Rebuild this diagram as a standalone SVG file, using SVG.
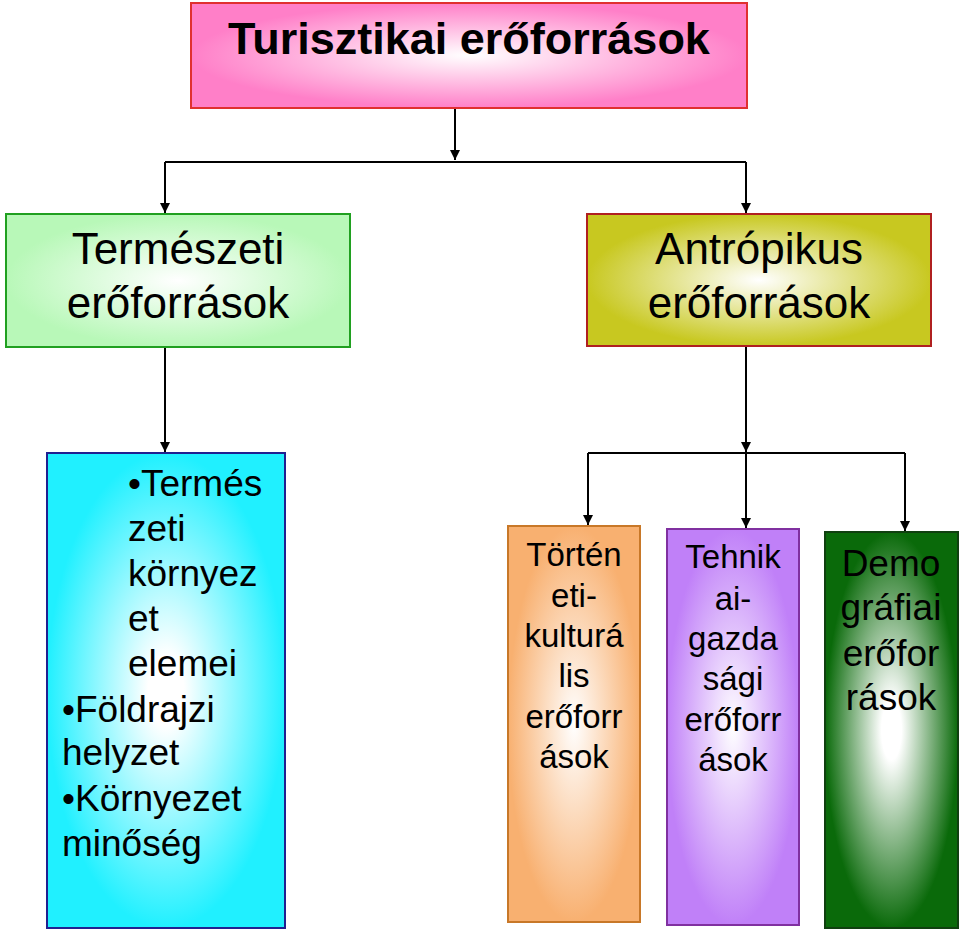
<svg xmlns="http://www.w3.org/2000/svg" width="960" height="931" viewBox="0 0 960 931">
<defs>
<radialGradient id="gPink"><stop offset="0" stop-color="#ffffff"/><stop offset="1" stop-color="#ff7fc8"/></radialGradient>
<radialGradient id="gGreen"><stop offset="0" stop-color="#ffffff"/><stop offset="1" stop-color="#b8f8b8"/></radialGradient>
<radialGradient id="gYellow"><stop offset="0" stop-color="#ffffff"/><stop offset="1" stop-color="#c8c820"/></radialGradient>
<radialGradient id="gCyan"><stop offset="0" stop-color="#ffffff"/><stop offset="0.15" stop-color="#ffffff"/><stop offset="1" stop-color="#20f0ff"/></radialGradient>
<radialGradient id="gOrange"><stop offset="0" stop-color="#ffffff"/><stop offset="1" stop-color="#f8b070"/></radialGradient>
<radialGradient id="gPurple"><stop offset="0" stop-color="#ffffff"/><stop offset="1" stop-color="#c080f8"/></radialGradient>
<radialGradient id="gDGreen"><stop offset="0" stop-color="#ffffff"/><stop offset="0.15" stop-color="#ffffff"/><stop offset="1" stop-color="#0a6a0a"/></radialGradient>
<marker id="arr" viewBox="0 0 10 10" refX="10" refY="5" markerWidth="5" markerHeight="5" orient="auto"><path d="M0,0 L10,5 L0,10 z" fill="#000"/></marker>
</defs>
<style>
text{font-family:"Liberation Sans",Arial,sans-serif;fill:#000}
.c{text-anchor:middle}
.ln{stroke:#000;stroke-width:2;fill:none}
.a{marker-end:url(#arr)}
</style>
<g id="connectors">
<path class="ln a" d="M455,108 V160"/>
<path class="ln" d="M165,162 H746"/>
<path class="ln a" d="M165,162 V213"/>
<path class="ln a" d="M746,162 V213"/>
<path class="ln a" d="M165,347 V452"/>
<path class="ln a" d="M746,346 V452"/>
<path class="ln" d="M588,453 H905"/>
<path class="ln a" d="M588,453 V525"/>
<path class="ln a" d="M746,453 V528"/>
<path class="ln a" d="M905,453 V531"/>
</g>
<g id="top"><rect x="191" y="3" width="556" height="105" fill="url(#gPink)" stroke="#e03030" stroke-width="2"/>
<text x="469" y="54" class="c" font-size="45" font-weight="bold">Turisztikai erőforrások</text></g>
<g id="termeszeti"><rect x="6" y="214" width="344" height="133" fill="url(#gGreen)" stroke="#20a020" stroke-width="2"/>
<text x="178" y="264" class="c" font-size="44">Természeti</text><text x="178" y="318" class="c" font-size="44">erőforrások</text></g>
<g id="antropikus"><rect x="587" y="214" width="344" height="132" fill="url(#gYellow)" stroke="#b02020" stroke-width="2"/>
<text x="759" y="264" class="c" font-size="44">Antrópikus</text><text x="759" y="318" class="c" font-size="44">erőforrások</text></g>
<g id="kornyezet"><rect x="47" y="453" width="238" height="475" fill="url(#gCyan)" stroke="#202090" stroke-width="2"/>
<g font-size="37"><text x="128" y="496">•Termés</text><text x="128" y="541">zeti</text><text x="128" y="586">környez</text><text x="128" y="631">et</text><text x="128" y="676">elemei</text><text x="62" y="722">•Földrajzi</text><text x="62" y="765">helyzet</text><text x="62" y="811">•Környezet</text><text x="62" y="856">minőség</text></g></g>
<g id="torteneti"><rect x="508" y="526" width="132" height="396" fill="url(#gOrange)" stroke="#c87828" stroke-width="2"/>
<g font-size="33" class="c"><text x="574" y="566">Történ</text><text x="574" y="607">eti-</text><text x="574" y="647">kulturá</text><text x="574" y="687">lis</text><text x="574" y="728">erőforr</text><text x="574" y="768">ások</text></g></g>
<g id="tehnikai"><rect x="667" y="529" width="132" height="396" fill="url(#gPurple)" stroke="#8030a0" stroke-width="2"/>
<g font-size="33" class="c"><text x="733" y="568">Tehnik</text><text x="733" y="610">ai-</text><text x="733" y="650">gazda</text><text x="733" y="690">sági</text><text x="733" y="731">erőforr</text><text x="733" y="771">ások</text></g></g>
<g id="demografiai"><rect x="825" y="532" width="133" height="396" fill="url(#gDGreen)" stroke="#104010" stroke-width="2"/>
<g font-size="37" class="c"><text x="891" y="576">Demo</text><text x="891" y="620">gráfiai</text><text x="891" y="666">erőfor</text><text x="891" y="710">rások</text></g></g>
</svg>
